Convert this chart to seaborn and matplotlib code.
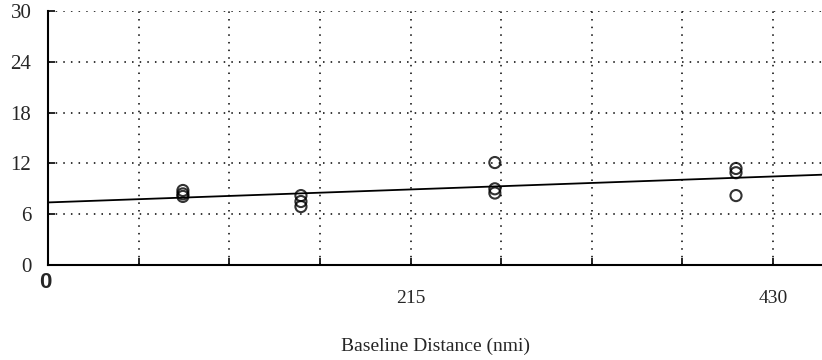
import numpy as np
import pandas as pd
import matplotlib
matplotlib.use("Agg")
import matplotlib.pyplot as plt
import matplotlib.transforms as mtransforms
from matplotlib.ticker import FixedLocator
import seaborn as sns

# ---- data ----
distance = [80, 80, 80, 150, 150, 150, 265, 265, 265, 408, 408, 408]
value = [8.8, 8.4, 8.1, 8.2, 7.5, 6.9, 12.1, 9.0, 8.5, 11.4, 10.9, 8.2]
x_major_ticks = [0, 215, 430]
x_major_labels = ["0", "215", "430"]
x_grid_ticks = [53.75, 107.5, 161.25, 268.75, 322.5, 376.25]
y_ticks = [0, 6, 12, 18, 24, 30]
y_labels = ["0", "6", "12", "18", "24", "30"]
x_label = "Baseline Distance (nmi)"

df = pd.DataFrame({"distance": distance, "value": value})

sns.set_style("ticks")
plt.rcParams["font.family"] = ["Liberation Serif", "DejaVu Serif"]

fig = plt.figure(figsize=(8.22, 3.6), dpi=100)
ax = fig.add_axes([48 / 822, 1 - 265 / 360, 1 - 48 / 822, (265 - 11) / 360])
ax.set_xlim(0, 459)
ax.set_ylim(0, 30)

sns.regplot(data=df, x="distance", y="value", ax=ax, ci=None, truncate=False,
            scatter_kws=dict(s=64, facecolors="none", edgecolors="black", linewidths=1.5),
            line_kws=dict(color="black", linewidth=1.3), color="black")
ax.set_xlim(0, 459)
ax.set_ylim(0, 30)

# grid
ax.xaxis.set_major_locator(FixedLocator(x_major_ticks))
ax.set_xticklabels(x_major_labels)
ax.xaxis.set_minor_locator(FixedLocator(x_grid_ticks))
ax.set_yticks(y_ticks)
ax.set_yticklabels(y_labels)
ax.grid(True, which="both", color="black", linestyle=(0, (1, 4)), linewidth=1.1)

for s in ["top", "right"]:
    ax.spines[s].set_visible(False)
for s in ["left", "bottom"]:
    ax.spines[s].set_linewidth(1.5)
    ax.spines[s].set_color("black")

ax.tick_params(axis="both", which="both", direction="in", length=5, width=1.2, color="black")
ax.tick_params(axis="x", which="major", labelsize=14, pad=18)
ax.tick_params(axis="y", which="major", labelsize=15, pad=12)

# move the x "0" label closer to the axis
fig.canvas.draw()
lab0 = ax.get_xticklabels()[0]
lab0.set_transform(lab0.get_transform() + mtransforms.ScaledTranslation(-3 / 100, 18 / 100, fig.dpi_scale_trans))
lab0.set_fontfamily(["Liberation Sans", "DejaVu Sans"])
lab0.set_fontweight("bold")
lab0.set_fontsize(16)

ax.set_xlabel(x_label, fontsize=14, labelpad=22)
ax.set_ylabel("")

fig.savefig("out.png", dpi=100)
